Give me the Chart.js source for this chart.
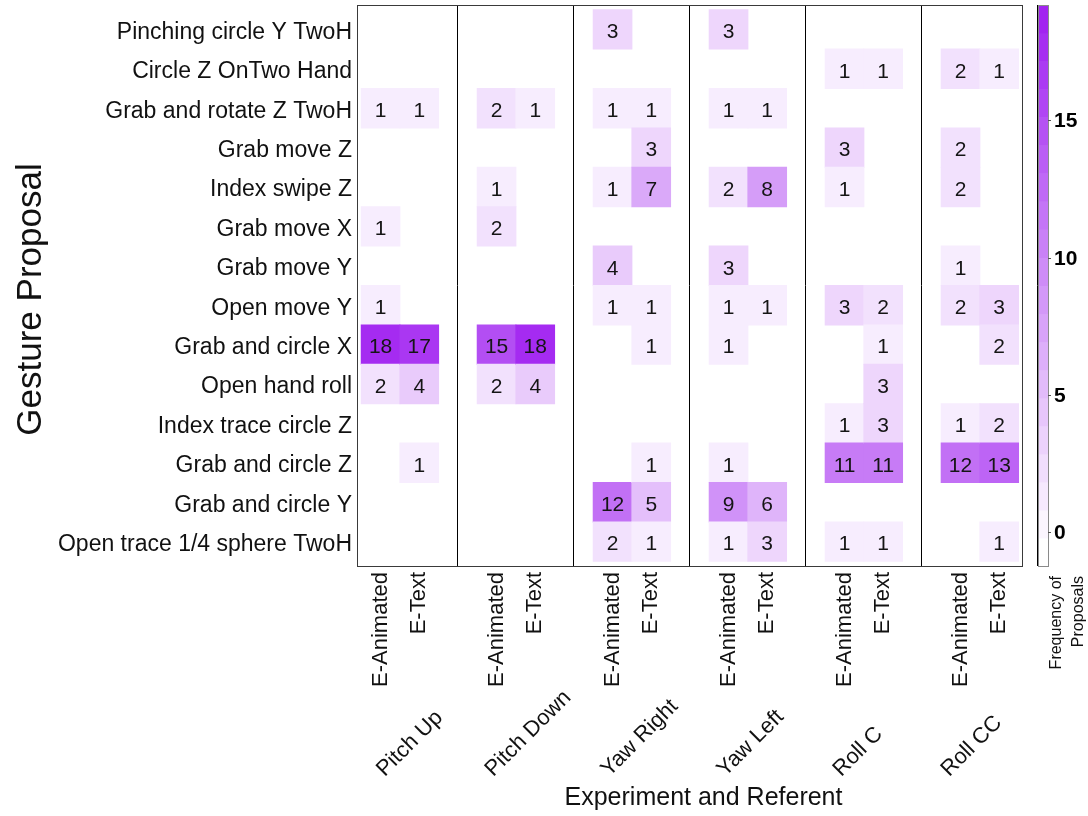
<!DOCTYPE html>
<html>
<head>
<meta charset="utf-8">
<script src="https://cdn.jsdelivr.net/npm/chart.js@4.4.1/dist/chart.umd.min.js"></script>
<style>
  html, body { margin: 0; padding: 0; background: #ffffff; }
  #wrap { position: relative; width: 1088px; height: 816px; }
</style>
</head>
<body>
<div id="wrap"><canvas id="heat"></canvas></div>
<script>
// ---- data -----------------------------------------------------------------
const referents = ['Pitch Up', 'Pitch Down', 'Yaw Right', 'Yaw Left', 'Roll C', 'Roll CC'];
const experiments = ['E-Animated', 'E-Text'];
const gestures = [
  'Pinching circle Y TwoH',
  'Circle Z OnTwo Hand',
  'Grab and rotate Z TwoH',
  'Grab move Z',
  'Index swipe Z',
  'Grab move X',
  'Grab move Y',
  'Open move Y',
  'Grab and circle X',
  'Open hand roll',
  'Index trace circle Z',
  'Grab and circle Z',
  'Grab and circle Y',
  'Open trace 1/4 sphere TwoH'
];

// proposal counts, one entry per gesture (same order as above); 0 = none
const pitchUpAnimated   = [0, 0, 1, 0, 0, 1, 0, 1, 18, 2, 0, 0, 0, 0];
const pitchUpText       = [0, 0, 1, 0, 0, 0, 0, 0, 17, 4, 0, 1, 0, 0];
const pitchDownAnimated = [0, 0, 2, 0, 1, 2, 0, 0, 15, 2, 0, 0, 0, 0];
const pitchDownText     = [0, 0, 1, 0, 0, 0, 0, 0, 18, 4, 0, 0, 0, 0];
const yawRightAnimated  = [3, 0, 1, 0, 1, 0, 4, 1, 0, 0, 0, 0, 12, 2];
const yawRightText      = [0, 0, 1, 3, 7, 0, 0, 1, 1, 0, 0, 1, 5, 1];
const yawLeftAnimated   = [3, 0, 1, 0, 2, 0, 3, 1, 1, 0, 0, 1, 9, 1];
const yawLeftText       = [0, 0, 1, 0, 8, 0, 0, 1, 0, 0, 0, 0, 6, 3];
const rollCAnimated     = [0, 1, 0, 3, 1, 0, 0, 3, 0, 0, 1, 11, 0, 1];
const rollCText         = [0, 1, 0, 0, 0, 0, 0, 2, 1, 3, 3, 11, 0, 1];
const rollCCAnimated    = [0, 2, 0, 2, 2, 0, 1, 2, 0, 0, 1, 12, 0, 0];
const rollCCText        = [0, 1, 0, 0, 0, 0, 0, 3, 2, 0, 2, 13, 0, 1];

const colorbarTicks = [0, 5, 10, 15];

// ---- layout of the facet grid ----------------------------------------------
// each referent occupies 3 x-units: half-unit gap, two cells, half-unit gap
const PANEL = 3;
const columnsByReferent = [
  [pitchUpAnimated, pitchUpText],
  [pitchDownAnimated, pitchDownText],
  [yawRightAnimated, yawRightText],
  [yawLeftAnimated, yawLeftText],
  [rollCAnimated, rollCText],
  [rollCCAnimated, rollCCText]
];

const cells = [];
columnsByReferent.forEach((pair, r) => {
  pair.forEach((counts, e) => {
    counts.forEach((v, g) => {
      if (v > 0) cells.push({ x: PANEL * r + 1 + e, y: [g - 0.5, g + 0.5], v: v });
    });
  });
});

const xTickValues = [];
for (let r = 0; r < referents.length; r++) {
  xTickValues.push(PANEL * r + 1, PANEL * r + 2, PANEL * r + 3);
}

// ---- colour scale: white -> purple -----------------------------------------
const FILL_LOW = -0.6, FILL_HIGH = 19;
function fillFor(v) {
  const t = Math.max(0, Math.min(1, (v - FILL_LOW) / (FILL_HIGH - FILL_LOW)));
  const r = Math.round(255 + (160 - 255) * t);
  const g = Math.round(255 + (32 - 255) * t);
  const b = Math.round(255 + (240 - 255) * t);
  return `rgb(${r},${g},${b})`;
}

const FONT = '"Liberation Sans", Arial, Helvetica, sans-serif';

// ---- plugins ----------------------------------------------------------------
const cellLabels = {
  id: 'cellLabels',
  afterDatasetsDraw(chart) {
    const { ctx } = chart;
    const meta = chart.getDatasetMeta(0);
    const data = chart.data.datasets[0].data;
    ctx.save();
    ctx.font = `21px ${FONT}`;
    ctx.fillStyle = '#151515';
    ctx.textAlign = 'center';
    ctx.textBaseline = 'middle';
    meta.data.forEach((bar, i) => {
      const c = bar.getCenterPoint();
      ctx.fillText(String(data[i].v), c.x, c.y + 3);
    });
    ctx.restore();
  }
};

const frameAndLegend = {
  id: 'frameAndLegend',
  afterDraw(chart) {
    const { ctx, chartArea } = chart;
    const xs = chart.scales.x;
    ctx.save();

    // plot frame
    ctx.strokeStyle = '#3a3a3a';
    ctx.lineWidth = 1;
    ctx.strokeRect(Math.round(chartArea.left) + 0.5, Math.round(chartArea.top) + 0.5,
      Math.round(chartArea.right - chartArea.left), Math.round(chartArea.bottom - chartArea.top));

    // referent labels under each panel, rotated 45 degrees
    ctx.font = `22px ${FONT}`;
    ctx.fillStyle = '#111';
    ctx.textAlign = 'left';
    ctx.textBaseline = 'middle';
    referents.forEach((name, r) => {
      const a = Math.max(xs.getPixelForValue(PANEL * r), chartArea.left);
      const b = Math.min(xs.getPixelForValue(PANEL * r + PANEL), chartArea.right);
      const cx = (a + b) / 2;
      ctx.save();
      ctx.translate(cx - 27, chartArea.bottom + 207);
      ctx.rotate(-Math.PI / 4);
      ctx.fillText(name, 0, 0);
      ctx.restore();
    });

    // axis titles
    ctx.font = `25px ${FONT}`;
    ctx.textAlign = 'center';
    ctx.textBaseline = 'middle';
    ctx.fillText('Experiment and Referent', (chartArea.left + chartArea.right) / 2 + 14, chartArea.bottom + 232);
    ctx.save();
    ctx.font = `35px ${FONT}`;
    ctx.translate(31, (chartArea.top + chartArea.bottom) / 2 + 14);
    ctx.rotate(-Math.PI / 2);
    ctx.fillText('Gesture Proposal', 0, 0);
    ctx.restore();

    // colour bar
    const cb = chart.scales.cb;
    const bx = chartArea.right + 16, bw = 10;
    const bands = 20;
    const step = (cb.max - cb.min) / bands;
    for (let k = 0; k < bands; k++) {
      const v0 = cb.min + k * step, v1 = v0 + step;
      const yTop = cb.getPixelForValue(v1), yBot = cb.getPixelForValue(v0);
      ctx.fillStyle = fillFor(v0 + step / 2);
      ctx.fillRect(bx, yTop, bw, yBot - yTop + 0.5);
    }
    ctx.strokeStyle = '#8a8a8a';
    ctx.lineWidth = 1;
    const top = cb.getPixelForValue(cb.max), bot = cb.getPixelForValue(cb.min);
    ctx.strokeRect(Math.round(bx) + 0.5, Math.round(top) + 0.5, bw, Math.round(bot - top));

    ctx.font = `bold 21px ${FONT}`;
    ctx.fillStyle = '#000';
    ctx.textAlign = 'left';
    ctx.textBaseline = 'middle';
    colorbarTicks.forEach(t => {
      const y = Math.round(cb.getPixelForValue(t)) + 0.5;
      ctx.strokeStyle = '#555';
      ctx.beginPath();
      ctx.moveTo(bx + bw, y);
      ctx.lineTo(bx + bw + 3, y);
      ctx.stroke();
      ctx.fillText(String(t), bx + bw + 6, y + 1);
    });

    // colour bar title, two rotated lines
    ctx.font = `16px ${FONT}`;
    ctx.fillStyle = '#111';
    ctx.textAlign = 'right';
    ctx.textBaseline = 'middle';
    ['Frequency of', 'Proposals'].forEach((line, i) => {
      ctx.save();
      ctx.translate(bx + 19 + i * 22, chartArea.bottom + 10);
      ctx.rotate(-Math.PI / 2);
      ctx.fillText(line, 0, 0);
      ctx.restore();
    });

    ctx.restore();
  }
};

// ---- chart --------------------------------------------------------------------
const canvas = document.getElementById('heat');
canvas.width = 1088;
canvas.height = 816;

new Chart(canvas, {
  type: 'bar',
  data: {
    datasets: [{
      data: cells,
      backgroundColor: ctx => ctx.raw ? fillFor(ctx.raw.v) : 'transparent',
      borderWidth: 0,
      barPercentage: 1,
      categoryPercentage: 1,
      inflateAmount: 0.5
    }]
  },
  options: {
    responsive: false,
    animation: false,
    devicePixelRatio: 1,
    layout: { padding: { top: 5, right: 66, left: 0, bottom: 0 } },
    plugins: {
      legend: { display: false },
      tooltip: { enabled: false }
    },
    scales: {
      x: {
        type: 'linear',
        offset: false,
        min: 0.39,
        max: 17.59,
        afterBuildTicks: s => { s.ticks = xTickValues.map(v => ({ value: v })); },
        afterFit: s => { s.height = 250; s.paddingLeft = 0; s.paddingRight = 0; },
        ticks: {
          autoSkip: false,
          minRotation: 90,
          maxRotation: 90,
          padding: 6,
          color: '#111',
          font: { family: FONT, size: 22 },
          callback: v => (v % PANEL === 0 ? '' : experiments[(v % PANEL) - 1])
        },
        grid: {
          offset: false,
          drawTicks: false,
          lineWidth: 1,
          color: c => (c.tick && c.tick.value % PANEL === 0 ? '#000000' : 'rgba(0,0,0,0)')
        },
        border: { display: false },
        title: { display: false }
      },
      y: {
        type: 'linear',
        reverse: true,
        min: -0.62,
        max: 13.62,
        afterBuildTicks: s => { s.ticks = gestures.map((g, i) => ({ value: i })); },
        afterFit: s => { s.width = 357; s.paddingTop = 0; s.paddingBottom = 0; },
        ticks: {
          autoSkip: false,
          padding: 5,
          labelOffset: 3,
          color: '#111',
          font: { family: FONT, size: 23 },
          callback: v => gestures[v]
        },
        grid: { display: false, drawTicks: false },
        border: { display: false },
        title: { display: false }
      },
      cb: {
        type: 'linear',
        position: 'right',
        display: false,
        min: -1.24,
        max: 19.2,
        afterFit: s => { s.paddingTop = 0; s.paddingBottom = 0; }
      }
    }
  },
  plugins: [cellLabels, frameAndLegend]
});
</script>
</body>
</html>
